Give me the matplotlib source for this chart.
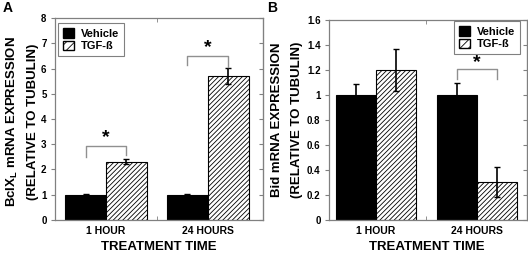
import numpy as np
import matplotlib
matplotlib.use('Agg')
import matplotlib.pyplot as plt
from matplotlib.patches import Patch

plt.rcParams['font.family'] = ['Liberation Sans', 'DejaVu Sans']
plt.rcParams['font.weight'] = 'bold'
plt.rcParams['mathtext.fontset'] = 'custom'
plt.rcParams['mathtext.rm'] = 'Liberation Sans:bold'
plt.rcParams['mathtext.default'] = 'rm'
plt.rcParams['hatch.linewidth'] = 0.6

groups = ['1 HOUR', '24 HOURS']
series = ['Vehicle', 'TGF-ß']

# panel A: BclXL
a_vehicle = [1.0, 1.0]
a_vehicle_err = [0.02, 0.03]
a_tgf = [2.3, 5.7]
a_tgf_err = [0.1, 0.32]
a_yticks = [0, 1, 2, 3, 4, 5, 6, 7, 8]
# significance brackets: (group, top, left leg bottom, right leg bottom)
a_sig = [(0, 2.93, 2.5, 2.57), (1, 6.5, 6.14, 6.06)]

# panel B: Bid
b_vehicle = [1.0, 1.0]
b_vehicle_err = [0.09, 0.1]
b_tgf = [1.2, 0.3]
b_tgf_err = [0.17, 0.12]
b_yticks = [0, 0.2, 0.4, 0.6, 0.8, 1, 1.2, 1.4, 1.6]
b_sig = [(1, 1.21, 1.13, 1.13)]

spine_col = '#808080'
W = 0.4

fig = plt.figure(figsize=(5.28, 2.54), dpi=100)


def panel(rect, xlim, ylim, yticks, veh, veh_err, tgf, tgf_err, sig, star_off, leg_anchor, leg_loc):
    ax = fig.add_axes(rect)
    x = np.arange(len(groups))
    ax.bar(x - W / 2, veh, W, color='black', edgecolor='black', linewidth=0.8, zorder=2)
    ax.bar(x + W / 2, tgf, W, color='white', edgecolor='black', hatch='///////', linewidth=0.8, zorder=2)
    ax.errorbar(x - W / 2, veh, yerr=veh_err, fmt='none', ecolor='black', elinewidth=1.2, capsize=2, capthick=1, zorder=3)
    ax.errorbar(x + W / 2, tgf, yerr=tgf_err, fmt='none', ecolor='black', elinewidth=1.2, capsize=2, capthick=1, zorder=3)
    for g, top, lb, rb in sig:
        xl, xr = g - W / 2, g + W / 2
        ax.plot([xl, xl, xr, xr], [lb, top, top, rb], color='#909090', lw=1.0, zorder=3)
        ax.text(g, top + star_off, '*', ha='center', va='center', fontsize=14, fontweight='bold')
    ax.set_xlim(*xlim)
    ax.set_ylim(*ylim)
    ax.set_yticks(yticks)
    ax.set_yticklabels([('%g' % v) for v in yticks], fontsize=7, fontweight='bold')
    ax.set_xticks(x)
    ax.set_xticklabels(groups, fontsize=7.5, fontweight='bold')
    ax.tick_params(axis='x', length=0, pad=4)
    ax.set_xticks([0.5], minor=True)
    ax.tick_params(axis='x', which='minor', direction='in', top=True, bottom=True, length=3, color=spine_col)
    ax.tick_params(axis='y', direction='out', length=3, width=0.8, color=spine_col, pad=3)
    ax2 = ax.secondary_yaxis('right')
    ax2.set_yticks(yticks)
    ax2.tick_params(direction='in', length=3, width=0.8, color=spine_col, labelright=False)
    ax2.spines['right'].set_color(spine_col)
    for s in ax.spines.values():
        s.set_color(spine_col)
        s.set_linewidth(0.9)
    handles = [Patch(facecolor='black', edgecolor='black', label=series[0]),
               Patch(facecolor='white', edgecolor='black', hatch='////', label=series[1])]
    leg = ax.legend(handles=handles, loc=leg_loc, bbox_to_anchor=leg_anchor, fontsize=8,
                    frameon=True, fancybox=False, handlelength=1.0, handleheight=1.0,
                    handletextpad=0.6, borderpad=0.45, labelspacing=0.15, borderaxespad=0)
    leg.get_frame().set_edgecolor('#606060')
    leg.get_frame().set_linewidth(0.8)
    return ax


panel([0.104, 0.134, 0.394, 0.795], (-0.5, 1.54), (0, 8), a_yticks,
      a_vehicle, a_vehicle_err, a_tgf, a_tgf_err, a_sig, 0.32,
      (0.014, 0.975), 'upper left')
panel([0.623, 0.134, 0.375, 0.787], (-0.465, 1.495), (0, 1.6), b_yticks,
      b_vehicle, b_vehicle_err, b_tgf, b_tgf_err, b_sig, 0.05,
      (0.965, 0.995), 'upper right')

# axis labels
fig.text(12 / 528, 1 - 122 / 254, 'BclX$_\\mathrm{L}$ mRNA EXPRESSION', rotation=90,
         ha='center', va='center', fontsize=9.5, fontweight='bold')
fig.text(33 / 528, 1 - 122 / 254, '(RELATIVE TO TUBULIN)', rotation=90,
         ha='center', va='center', fontsize=9.5, fontweight='bold')
fig.text(277 / 528, 1 - 120 / 254, 'Bid mRNA EXPRESSION', rotation=90,
         ha='center', va='center', fontsize=9.5, fontweight='bold')
fig.text(297 / 528, 1 - 120 / 254, '(RELATIVE TO TUBULIN)', rotation=90,
         ha='center', va='center', fontsize=9.5, fontweight='bold')
fig.text(159 / 528, 1 - 247 / 254, 'TREATMENT TIME', ha='center', va='center',
         fontsize=9.5, fontweight='bold')
fig.text(427 / 528, 1 - 247 / 254, 'TREATMENT TIME', ha='center', va='center',
         fontsize=9.5, fontweight='bold')
fig.text(8 / 528, 1 - 8 / 254, 'A', ha='center', va='center', fontsize=10, fontweight='bold')
fig.text(272 / 528, 1 - 8 / 254, 'B', ha='center', va='center', fontsize=10, fontweight='bold')

fig.savefig('out.png', dpi=100)
